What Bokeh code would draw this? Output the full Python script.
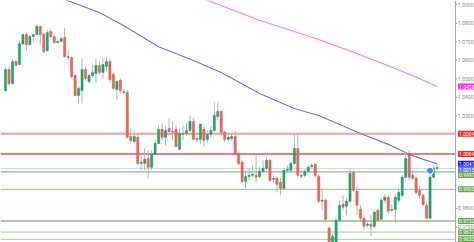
from bokeh.plotting import figure
from bokeh.models import Range1d, Span, Label, ColumnDataSource
from bokeh.core.properties import value
from bokeh.embed import file_html
from bokeh.resources import INLINE

opens = [1.0437, 1.0550, 1.0475, 1.0593, 1.0577, 1.0690, 1.0739, 1.0685, 1.0728, 1.0739,
         1.0782, 1.0739, 1.0652, 1.0755, 1.0728, 1.0696, 1.0701, 1.0723, 1.0620, 1.0615,
         1.0518, 1.0410, 1.0437, 1.0550, 1.0485, 1.0518, 1.0529, 1.0572, 1.0534, 1.0566,
         1.0593, 1.0523, 1.0442, 1.0491, 1.0431, 1.0426, 1.0189, 1.0162, 1.0184, 1.0043,
         1.0043, 1.0070, 1.0022, 1.0092, 1.0151, 1.0227, 1.0184, 1.0232, 1.0216, 1.0227,
         1.0119, 1.0205, 1.0205, 1.0221, 1.0270, 1.0173, 1.0173, 1.0227, 1.0173, 1.0200,
         1.0221, 1.0297, 1.0324, 1.0211, 1.0173, 1.0178, 1.0189, 1.0097, 1.0049, 0.9946,
         0.9973, 0.9979, 0.9979, 0.9973, 1.0000, 1.0017, 1.0060, 0.9957, 0.9963, 0.9941,
         0.9909, 1.0006, 1.0006, 1.0043, 1.0124, 0.9979, 0.9979, 1.0000, 1.0027, 1.0038,
         0.9973, 0.9839, 0.9844, 0.9693, 0.9585, 0.9618, 0.9736, 0.9822, 0.9812, 0.9839,
         0.9995, 0.9893, 0.9795, 0.9747, 0.9709, 0.9715, 0.9704, 0.9790, 0.9742, 0.9844,
         0.9860, 0.9790, 0.9795, 0.9844, 0.9871, 0.9968, 1.0097, 0.9979, 0.9963, 0.9898,
         0.9871, 0.9817, 0.9747, 0.9968, 1.0022]
highs = [1.0561, 1.0566, 1.0609, 1.0604, 1.0706, 1.0744, 1.0749, 1.0739, 1.0744, 1.0793,
         1.0787, 1.0749, 1.0766, 1.0771, 1.0739, 1.0712, 1.0728, 1.0776, 1.0652, 1.0620,
         1.0523, 1.0458, 1.0609, 1.0561, 1.0529, 1.0577, 1.0609, 1.0599, 1.0609, 1.0615,
         1.0609, 1.0534, 1.0496, 1.0502, 1.0448, 1.0437, 1.0232, 1.0221, 1.0200, 1.0087,
         1.0124, 1.0114, 1.0114, 1.0167, 1.0248, 1.0259, 1.0248, 1.0286, 1.0270, 1.0248,
         1.0237, 1.0248, 1.0264, 1.0302, 1.0286, 1.0194, 1.0259, 1.0243, 1.0221, 1.0243,
         1.0372, 1.0372, 1.0329, 1.0221, 1.0205, 1.0205, 1.0216, 1.0108, 1.0060, 1.0006,
         1.0017, 1.0033, 1.0097, 1.0027, 1.0060, 1.0076, 1.0070, 0.9979, 0.9973, 0.9963,
         1.0017, 1.0033, 1.0054, 1.0200, 1.0200, 1.0006, 1.0011, 1.0033, 1.0043, 1.0043,
         0.9984, 0.9909, 0.9855, 0.9704, 0.9661, 0.9747, 0.9844, 0.9871, 0.9855, 1.0011,
         1.0006, 0.9920, 0.9817, 0.9763, 0.9736, 0.9763, 0.9790, 0.9801, 0.9855, 0.9876,
         0.9871, 0.9822, 0.9876, 0.9909, 0.9979, 1.0103, 1.0114, 1.0006, 0.9979, 0.9920,
         0.9882, 0.9828, 0.9979, 1.0033, 1.0043]
lows = [1.0431, 1.0464, 1.0469, 1.0566, 1.0577, 1.0679, 1.0652, 1.0679, 1.0701, 1.0733,
        1.0685, 1.0636, 1.0647, 1.0723, 1.0690, 1.0690, 1.0696, 1.0615, 1.0599, 1.0502,
        1.0405, 1.0367, 1.0367, 1.0491, 1.0475, 1.0507, 1.0480, 1.0523, 1.0502, 1.0545,
        1.0480, 1.0437, 1.0383, 1.0421, 1.0415, 1.0178, 1.0151, 1.0146, 1.0033, 1.0006,
        1.0006, 0.9963, 1.0006, 1.0087, 1.0146, 1.0167, 1.0141, 1.0194, 1.0167, 1.0130,
        1.0114, 1.0167, 1.0194, 1.0211, 1.0167, 1.0157, 1.0146, 1.0135, 1.0151, 1.0184,
        1.0211, 1.0275, 1.0194, 1.0157, 1.0162, 1.0167, 1.0092, 1.0033, 0.9936, 0.9909,
        0.9952, 0.9968, 0.9941, 0.9963, 0.9995, 1.0006, 0.9941, 0.9936, 0.9887, 0.9871,
        0.9898, 0.9995, 0.9990, 1.0033, 0.9968, 0.9963, 0.9968, 0.9990, 1.0017, 0.9968,
        0.9828, 0.9790, 0.9725, 0.9575, 0.9564, 0.9601, 0.9725, 0.9790, 0.9763, 0.9828,
        0.9887, 0.9763, 0.9725, 0.9682, 0.9698, 0.9650, 0.9693, 0.9725, 0.9736, 0.9828,
        0.9769, 0.9779, 0.9720, 0.9828, 0.9860, 0.9963, 0.9952, 0.9952, 0.9876, 0.9855,
        0.9812, 0.9742, 0.9742, 0.9963, 1.0006]
closes = [1.0550, 1.0475, 1.0593, 1.0572, 1.0690, 1.0739, 1.0685, 1.0728, 1.0739, 1.0782,
          1.0739, 1.0647, 1.0749, 1.0728, 1.0696, 1.0701, 1.0717, 1.0620, 1.0615, 1.0512,
          1.0410, 1.0448, 1.0550, 1.0502, 1.0518, 1.0534, 1.0572, 1.0534, 1.0577, 1.0593,
          1.0496, 1.0448, 1.0485, 1.0437, 1.0426, 1.0184, 1.0167, 1.0189, 1.0043, 1.0049,
          1.0065, 1.0022, 1.0092, 1.0151, 1.0227, 1.0184, 1.0221, 1.0216, 1.0211, 1.0135,
          1.0205, 1.0200, 1.0221, 1.0270, 1.0173, 1.0178, 1.0254, 1.0167, 1.0200, 1.0221,
          1.0302, 1.0324, 1.0211, 1.0173, 1.0184, 1.0189, 1.0097, 1.0043, 0.9946, 0.9973,
          0.9979, 0.9984, 0.9968, 1.0000, 1.0017, 1.0060, 0.9952, 0.9963, 0.9930, 0.9909,
          1.0006, 1.0011, 1.0043, 1.0124, 0.9979, 0.9973, 1.0000, 1.0022, 1.0033, 0.9979,
          0.9839, 0.9844, 0.9742, 0.9601, 0.9650, 0.9736, 0.9817, 0.9806, 0.9839, 0.9990,
          0.9898, 0.9817, 0.9747, 0.9704, 0.9715, 0.9704, 0.9779, 0.9736, 0.9844, 0.9860,
          0.9785, 0.9795, 0.9860, 0.9887, 0.9968, 1.0070, 0.9968, 0.9963, 0.9887, 0.9871,
          0.9822, 0.9747, 0.9968, 1.0017, 1.0015]
bars = list(range(len(opens)))

ma_fast_bar = [16, 18, 27, 34, 39, 44, 54, 62, 73, 83, 90, 102, 110, 116, 120, 124]
ma_fast_val = [1.0935, 1.0922, 1.0858, 1.0787, 1.0730, 1.0673, 1.0599, 1.0534, 1.0421, 1.0340,
               1.0302, 1.0205, 1.0146, 1.0092, 1.0065, 1.0041]
ma_slow_bar = [56, 58, 73, 90, 100, 110, 119, 124]
ma_slow_val = [1.0935, 1.0924, 1.0816, 1.0712, 1.0643, 1.0570, 1.0502, 1.0458]

levels = [1.0204, 1.0094, 1.0015, 0.9997, 0.9903, 0.9732, 0.9672, 0.9633]
level_labels = ["1.0204", "1.0094", "1.0015", "0.9997", "0.9903", "0.9732", "0.9672", "0.9633"]
level_colors = ["#ff9a9a", "#ee4f4f", "#c8d4ff", "#8fc07a", "#a7d094", "#8cc473", "#b5d8a6", "#b5d8a6"]
level_widths = [2, 1.5, 1, 1.3, 1.2, 1.3, 1.2, 1.2]
label_fills = ["#ff2020", "#ff2020", "#5577ff", "#6aa84f", "#6aa84f", "#6aa84f", "#6aa84f", "#6aa84f"]
label_shift = [0, 0, -1, -3, 0, 0, 0, 0]

ma_labels = ["1.0458", "1.0041"]
ma_label_vals = [1.0458, 1.0041]
ma_label_fills = ["#ff22ff", "#1a1aff"]

axis_ticks = [0.97, 0.98, 1.03, 1.04, 1.05, 1.06, 1.07, 1.08, 1.09]
axis_tick_labels = ["0.9700", "0.9800", "1.0300", "1.0400", "1.0500", "1.0600", "1.0700", "1.0800", "1.0900"]

# price-scale geometry (in bar units)
AXIS_X = 129.31
TICK_END = 129.9
LABEL_X = 130.05

up = [c >= o for o, c in zip(opens, closes)]
src = ColumnDataSource(dict(
    x=bars, o=opens, h=highs, l=lows, c=closes,
    top=[max(o, c) for o, c in zip(opens, closes)],
    bot=[min(o, c) for o, c in zip(opens, closes)],
    fill=["#1ea86a" if u else "#ee6660" for u in up],
    edge=["#16975c" if u else "#d94c47" for u in up],
))

p = figure(width=474, height=242, x_range=Range1d(-1.44, 134.77),
           y_range=Range1d(0.9616, 1.0923), output_backend="svg", toolbar_location=None,
           x_axis_location=None, y_axis_location=None, min_border=0)
p.grid.visible = False
p.outline_line_color = None
p.background_fill_color = "white"

for v, col, w in zip(levels, level_colors, level_widths):
    p.segment(x0=[-1.44], x1=[AXIS_X], y0=[v], y1=[v], line_color=col, line_width=w)

p.line(ma_fast_bar, ma_fast_val, line_color="#6f6ff7", line_width=1.1)
p.line(ma_slow_bar, ma_slow_val, line_color="#ff77f0", line_width=1.1)

p.segment(x0="x", x1="x", y0="l", y1="h", source=src, line_color="#a9b8b2", line_width=1)
p.vbar(x="x", width=0.62, top="top", bottom="bot", source=src,
       fill_color="fill", line_color="edge", line_width=0.5)

p.scatter([122], [1.0004], size=7, fill_color="#3d8fe8", line_color="white", line_width=1)

# price scale on the right
p.add_layout(Span(location=AXIS_X, dimension="height", line_color="#a8a8a8", line_width=1))
p.segment(x0=[AXIS_X] * len(axis_ticks), x1=[TICK_END] * len(axis_ticks), y0=axis_ticks, y1=axis_ticks,
          line_color="#a8a8a8", line_width=1)
p.text(x=[LABEL_X] * len(axis_ticks), y=axis_ticks, text=axis_tick_labels, text_font=value("Roboto"),
       text_font_size="5px", text_color="#8a8a8a", text_baseline="middle", text_align="left")

for v, t, f in zip(ma_label_vals, ma_labels, ma_label_fills):
    p.add_layout(Label(x=LABEL_X, y=v, y_offset=0, text=t, text_font_size="5px", text_font="Roboto",
                       text_color="white", background_fill_color=f, text_baseline="middle",
                       padding=1, level="overlay"))
for v, t, f, s in zip(levels, level_labels, label_fills, label_shift):
    p.add_layout(Label(x=LABEL_X, y=v, y_offset=s, text=t, text_font_size="5px", text_font="Roboto",
                       text_color="white", background_fill_color=f, text_baseline="middle",
                       padding=1, level="overlay"))

open("out.html", "w").write(file_html(p, INLINE))
